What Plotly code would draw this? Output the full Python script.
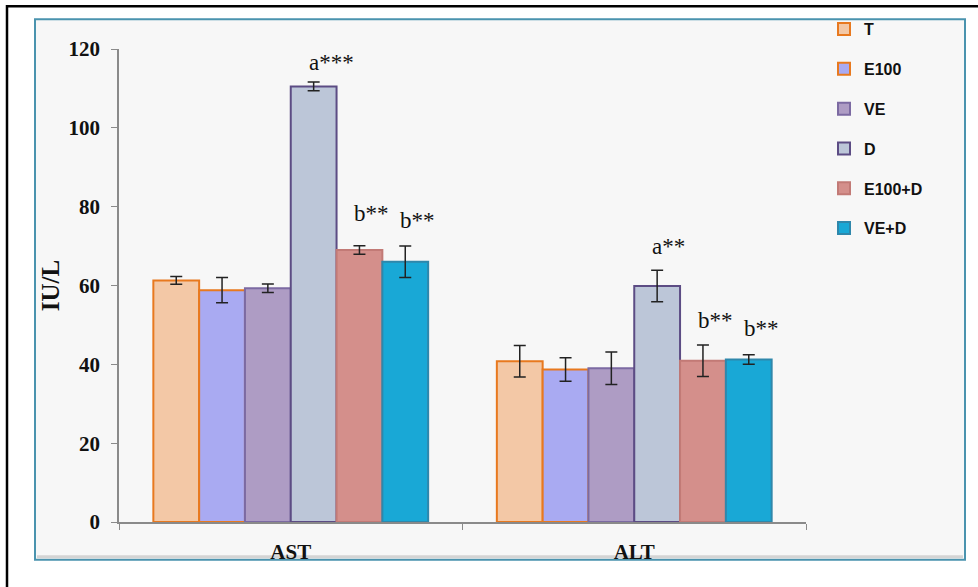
import plotly.graph_objects as go

categories = ["AST", "ALT"]
series_names = ["T", "E100", "VE", "D", "E100+D", "VE+D"]
values = {
    "T":      [61.3, 40.8],
    "E100":   [58.8, 38.7],
    "VE":     [59.3, 39.0],
    "D":      [110.5, 59.9],
    "E100+D": [69.0, 40.9],
    "VE+D":   [66.0, 41.2],
}
errors = {
    "T":      [1.0, 4.0],
    "E100":   [3.2, 3.0],
    "VE":     [1.1, 4.1],
    "D":      [1.1, 4.0],
    "E100+D": [1.1, 4.0],
    "VE+D":   [4.0, 1.2],
}
# significance labels: (series, category, text)
sig_labels = [
    ("D", "AST", "a***"),
    ("E100+D", "AST", "b**"),
    ("VE+D", "AST", "b**"),
    ("D", "ALT", "a**"),
    ("E100+D", "ALT", "b**"),
    ("VE+D", "ALT", "b**"),
]
y_ticks = [0, 20, 40, 60, 80, 100, 120]

fills = {
    "T": "#f3c8a6",
    "E100": "#a9aaf2",
    "VE": "#ae9cc4",
    "D": "#bcc6d8",
    "E100+D": "#d48f8b",
    "VE+D": "#19a8d6",
}
borders = {
    "T": "#e8791f",
    "E100": "#e8791f",
    "VE": "#7c6aa2",
    "D": "#5c4c84",
    "E100+D": "#c27a76",
    "VE+D": "#2f87ab",
}

W, H = 978, 587
L, R, T, B = 119, 172, 47, 65
pw, ph = W - L - R, H - T - B

def px_x(p):
    return (p - L) / pw

def px_y(p):
    return (H - B - p) / ph

fig = go.Figure()
for i, name in enumerate(series_names):
    fig.add_trace(go.Bar(
        name=name,
        x=categories,
        y=values[name],
        legendgroup=name,
        marker=dict(color=fills[name], line=dict(color=borders[name], width=2)),
        error_y=dict(type="data", array=errors[name], visible=True,
                     color="#222222", thickness=1.5, width=6),
    ))

bar_px = pw / 2 * 0.8 / len(series_names)
gaps = {("D", "AST"): 5, ("E100+D", "AST"): 18, ("VE+D", "AST"): 11,
        ("D", "ALT"): 9, ("E100+D", "ALT"): 10, ("VE+D", "ALT"): 12}
annotations = []
for s, c, txt in sig_labels:
    i = series_names.index(s)
    j = categories.index(c)
    top = values[s][j] + errors[s][j]
    annotations.append(dict(
        x=c, y=top, xref="x", yref="y", text=txt, showarrow=False,
        xanchor="left", yanchor="bottom",
        xshift=(i - 2.5) * bar_px - 7, yshift=gaps[(s, c)],
        font=dict(family="Liberation Serif", size=23, color="#111111"),
    ))

shapes = [
    # outer black frame
    dict(type="rect", xref="paper", yref="paper",
         x0=px_x(7), x1=px_x(982), y0=px_y(592), y1=px_y(4),
         line=dict(color="#000000", width=2.5), fillcolor="#ffffff", layer="below"),
    # inner panel
    dict(type="rect", xref="paper", yref="paper",
         x0=px_x(35), x1=px_x(965), y0=px_y(560), y1=px_y(17),
         line=dict(color="#4a93ae", width=2), fillcolor="#f7f7f7", layer="below"),
    # soft shadow just inside the panel bottom
    dict(type="line", xref="paper", yref="paper",
         x0=px_x(37), x1=px_x(963), y0=px_y(557), y1=px_y(557),
         line=dict(color="#d4d4d4", width=3), layer="below"),
]

fig.update_layout(
    width=W, height=H,
    margin=dict(l=L, r=R, t=T, b=B),
    paper_bgcolor="#ffffff",
    plot_bgcolor="rgba(0,0,0,0)",
    barmode="group",
    bargap=0.2,
    bargroupgap=0,
    shapes=shapes,
    annotations=annotations,
    showlegend=True,
    legend=dict(
        x=px_x(824), y=px_y(10), xanchor="left", yanchor="top",
        bgcolor="rgba(0,0,0,0)",
        font=dict(family="Liberation Sans", size=16, color="#111111", weight="bold"),
        tracegroupgap=16, traceorder="grouped",
    ),
    xaxis=dict(
        showline=True, linecolor="#8a8a8a", linewidth=1.5,
        ticks="outside", tickson="boundaries", ticklen=6, tickcolor="#8a8a8a",
        tickfont=dict(family="Liberation Serif", size=21, color="#111111", weight="bold"),
        ticklabelstandoff=10,
        showgrid=False, zeroline=False,
    ),
    yaxis=dict(
        range=[0, 120], tickvals=y_ticks,
        showline=True, linecolor="#8a8a8a", linewidth=1.5,
        ticks="outside", ticklen=6, tickcolor="#8a8a8a",
        ticklabelstandoff=7,
        tickfont=dict(family="Liberation Serif", size=21, color="#111111", weight="bold"),
        title=dict(text="IU/L", standoff=2,
                   font=dict(family="Liberation Serif", size=25, color="#111111", weight="bold")),
        showgrid=False, zeroline=False,
    ),
)

fig.write_html("out.html", config={"displayModeBar": False},
               post_script="document.body.style.margin='0';")
